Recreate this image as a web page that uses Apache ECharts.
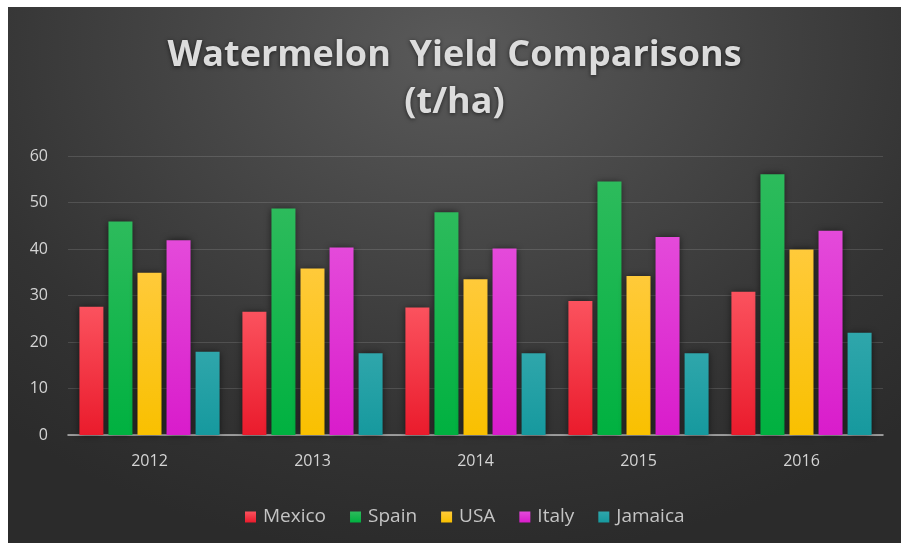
<!DOCTYPE html>
<html>
<head>
<meta charset="utf-8">
<script src="https://cdn.jsdelivr.net/npm/echarts@6/dist/echarts.min.js"></script>
<style>
html,body{margin:0;padding:0;background:#ffffff;width:901px;height:543px;overflow:hidden;}
#chart{position:absolute;left:8px;top:7px;width:893px;height:536px;
background:radial-gradient(ellipse 75% 95% at 50% 8%, #5a5a5a 0%, #454545 40%, #333333 75%, #2b2b2b 100%);}
</style>
</head>
<body>
<div id="chart"></div>
<script>
var categories = ['2012', '2013', '2014', '2015', '2016'];
var seriesNames = ['Mexico', 'Spain', 'USA', 'Italy', 'Jamaica'];
var mexico  = [27.6, 26.5, 27.4, 28.8, 30.8];
var spain   = [45.9, 48.7, 47.9, 54.5, 56.1];
var usa     = [34.9, 35.8, 33.5, 34.2, 39.9];
var italy   = [41.9, 40.3, 40.1, 42.6, 43.9];
var jamaica = [17.9, 17.6, 17.6, 17.6, 22.0];
var yTicks = [0, 10, 20, 30, 40, 50, 60];

var values = [mexico, spain, usa, italy, jamaica];
var colorsTop = ['#fb525e', '#2dbb5c', '#ffca3a', '#e44ada', '#2fa6ab'];
var colorsBot = ['#ea1b2c', '#00b140', '#f9c000', '#d91ccb', '#16999e'];
var legendColors = ['#f0303f', '#16b54d', '#fcc51c', '#de33d2', '#22a0a5'];

var chart = echarts.init(document.getElementById('chart'), null, {renderer: 'canvas'});

var series = seriesNames.map(function (name, i) {
  return {
    name: name,
    type: 'bar',
    data: values[i],
    barGap: '21%',
    barCategoryGap: '14%',
    itemStyle: {
      color: new echarts.graphic.LinearGradient(0, 0, 0, 1, [
        {offset: 0, color: colorsTop[i]},
        {offset: 1, color: colorsBot[i]}
      ]),
      shadowColor: 'rgba(0,0,0,0.6)',
      shadowBlur: 7
    }
  };
});

chart.setOption({
  animation: false,
  color: legendColors,
  title: {
    text: 'Watermelon  Yield Comparisons\n(t/ha)',
    left: 'center',
    top: 20,
    textStyle: {
      color: '#dcdcdc',
      fontFamily: 'Open Sans',
      fontWeight: 'bold',
      fontSize: 36,
      lineHeight: 47,
      textShadowColor: 'rgba(0,0,0,0.6)',
      textShadowBlur: 4,
      textShadowOffsetY: 1
    }
  },
  legend: {
    data: seriesNames,
    top: 495,
    left: 232,
    icon: 'rect',
    itemWidth: 11,
    itemHeight: 11,
    itemGap: 24,
    textStyle: {color: '#c4c4c4', fontFamily: 'Open Sans', fontSize: 19, lineHeight: 20, padding: [0, 0, 0, 2]}
  },
  grid: {left: 60, right: 18, top: 149, bottom: 108, containLabel: false},
  xAxis: {
    type: 'category',
    data: categories,
    axisLine: {show: true, lineStyle: {color: '#b8b8b8', width: 1.5}},
    axisTick: {show: false},
    axisLabel: {color: '#d4d4d4', fontFamily: 'Open Sans', fontSize: 16, margin: 18}
  },
  yAxis: {
    type: 'value',
    min: yTicks[0],
    max: yTicks[yTicks.length - 1],
    interval: 10,
    axisLine: {show: false},
    axisTick: {show: false},
    axisLabel: {color: '#d4d4d4', fontFamily: 'Open Sans', fontSize: 16, margin: 20},
    splitLine: {lineStyle: {color: 'rgba(255,255,255,0.13)', width: 1}}
  },
  series: series
});
</script>
</body>
</html>
